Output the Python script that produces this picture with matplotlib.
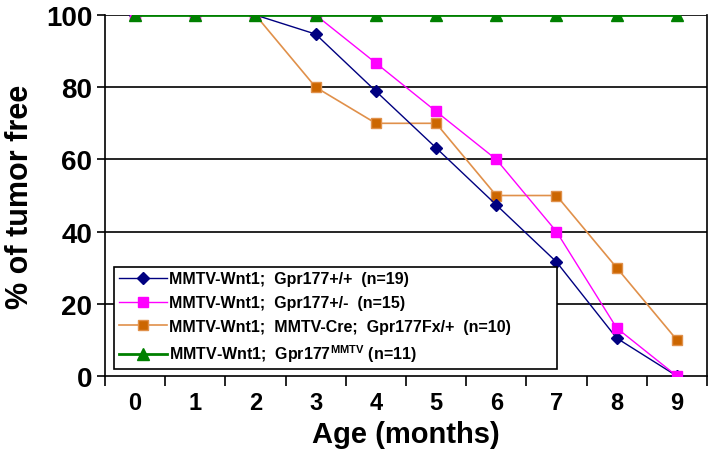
import numpy as np
import matplotlib
matplotlib.use("Agg")
import matplotlib.pyplot as plt

plt.rcParams['font.family'] = ['Liberation Sans', 'DejaVu Sans']
plt.rcParams['font.weight'] = 'bold'
plt.rcParams['mathtext.fontset'] = 'custom'
plt.rcParams['mathtext.bf'] = 'Liberation Sans:bold'
plt.rcParams['mathtext.rm'] = 'Liberation Sans:bold'

months = [0, 1, 2, 3, 4, 5, 6, 7, 8, 9]
wt = [100, 100, 100, 94.7, 78.9, 63.2, 47.4, 31.6, 10.5, 0]
het = [100, 100, 100, 100, 86.7, 73.3, 60, 40, 13.3, 0]
cre_fx = [100, 100, 100, 80, 70, 70, 50, 50, 30, 10]
mmtv = [100, 100, 100, 100, 100, 100, 100, 100, 100, 100]

labels = ['MMTV-Wnt1;  Gpr177+/+  (n=19)',
          'MMTV-Wnt1;  Gpr177+/-  (n=15)',
          'MMTV-Wnt1;  MMTV-Cre;  Gpr177Fx/+  (n=10)',
          r'MMTV-Wnt1;  Gpr177$^{\mathrm{MMTV}}$ (n=11)']

fig = plt.figure(figsize=(7.16, 4.6), dpi=100)
ax = fig.add_axes([0.1466, 0.1804, 0.8408, 0.7848])

# excel-like horizontal grid
for y in [20, 40, 60, 80, 100]:
    ax.axhline(y, color='black', lw=1.2, zorder=0)

ax.plot(months, wt, color='#000080', lw=1, marker='D', ms=6,
        mfc='#000080', mec='#000080', label=labels[0], zorder=3)
ax.plot(months, het, color='#FF00FF', lw=1, marker='s', ms=7,
        mfc='#FF00FF', mec='#FF00FF', label=labels[1], zorder=3)
ax.plot(months, cre_fx, color='#E0904A', lw=1.2, marker='s', ms=7,
        mfc='#CC6600', mec='#E0904A', label=labels[2], zorder=2)
ax.plot(months, mmtv, color='#008000', lw=2, marker='^', ms=8,
        mfc='#008000', mec='#008000', label=labels[3], zorder=4)

ax.set_xlim(-0.5, 9.5)
ax.set_ylim(0, 100)
ax.set_xticks(np.arange(-0.5, 10, 1))
ax.set_xticklabels([])
ax.set_xticks(months, minor=True)
ax.set_xticklabels([str(m) for m in months], minor=True, fontsize=17, fontweight='bold')
ax.tick_params(axis='x', which='major', direction='out', length=7, width=1.2)
ax.tick_params(axis='x', which='minor', length=0, pad=11)
ax.set_yticks([0, 20, 40, 60, 80, 100])
ax.set_yticklabels(['0', '20', '40', '60', '80', '100'], fontsize=20, fontweight='bold')
ax.tick_params(axis='y', direction='out', length=6, width=1.2, pad=3)

ax.spines['top'].set_visible(False)
for s in ['left', 'bottom', 'right']:
    ax.spines[s].set_linewidth(1.2)

ax.set_xlabel('Age (months)', fontsize=21, fontweight='bold', labelpad=4)
ax.set_ylabel('% of tumor free', fontsize=22, fontweight='bold', labelpad=8)

# legend box stretched like the excel one
leg = ax.legend(loc='lower left', bbox_to_anchor=(0.015, 0.019, 0.736, 0.2), mode='expand',
                fontsize=11.5, frameon=True, fancybox=False, edgecolor='black', framealpha=1,
                handlelength=3.0, borderpad=0.3, labelspacing=0.55, handletextpad=0.15,
                borderaxespad=0)
leg.get_frame().set_linewidth(1.2)
for t in leg.get_texts():
    t.set_fontweight('bold')

fig.savefig('out.png', dpi=100)
